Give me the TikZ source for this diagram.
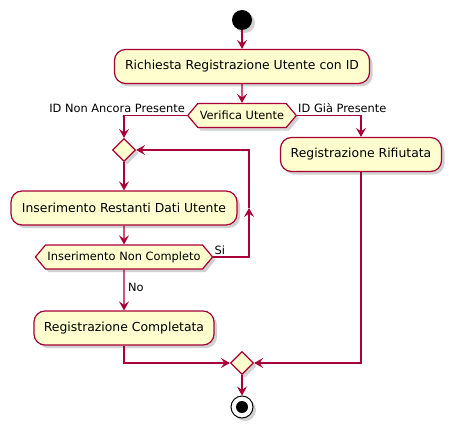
\documentclass[tikz,border=0pt]{standalone}
\usepackage{fontspec}
\setmainfont{DejaVu Sans}
\usetikzlibrary{arrows.meta,shapes.geometric,shapes.symbols,shadows,calc}
\definecolor{actfill}{HTML}{FEFECE}
\definecolor{actline}{HTML}{A80036}
\tikzset{
		umlshadow/.style={drop shadow={shadow xshift=3pt,shadow yshift=-3pt,opacity=0.3,fill=black!60}},
		action/.style={draw=actline,fill=actfill,line width=1.2pt,rounded corners=11pt,
			minimum height=34pt,inner xsep=6pt,font=\fontsize{12.4}{14}\selectfont,umlshadow},
		choice/.style={shape=signal,signal to=east and west,signal pointer angle=100,
			draw=actline,fill=actfill,line width=1.2pt,minimum height=24pt,inner xsep=2pt,inner ysep=0pt,
			font=\fontsize{11.4}{13}\selectfont,umlshadow},
		merge/.style={diamond,draw=actline,fill=actfill,line width=1.2pt,inner sep=0pt,
			minimum width=23pt,minimum height=23pt,umlshadow},
		flow/.style={draw=actline,line width=1.1pt,-{Stealth[length=9pt,width=10pt,inset=3.5pt]}},
		guard/.style={font=\fontsize{11.4}{13}\selectfont,inner sep=0pt},
		}

\begin{document}
\begin{tikzpicture}[x=1pt,y=-1pt]
					\useasboundingbox (0,0) rectangle (457,433);
					%START AND END
					\node[circle,fill=black,minimum size=20pt,inner sep=0pt,umlshadow](start) at (242,20){};
					\node[circle,draw=black,fill=white,line width=1pt,minimum size=22pt,inner sep=0pt,umlshadow](stop) at (242,407){};
					\node[circle,fill=black,minimum size=12pt,inner sep=0pt](stopdot) at (stop){};
					%ACTIONS
					\node[action,minimum width=255pt](richiesta) at (242,66.5){Richiesta Registrazione Utente con ID};
					\node[action,minimum width=161pt](rifiutata) at (361,154.5){Registrazione Rifiutata};
					\node[action,minimum width=226pt](restanti) at (124,208){Inserimento Restanti Dati Utente};
					\node[action,minimum width=180pt](completata) at (124,328){Registrazione Completata};
					%DECISIONS
					\node[choice,minimum width=106pt](verifica) at (242,115.5){Verifica Utente};
					\node[choice,minimum width=176pt](controllo) at (124,257){Inserimento Non Completo};
					\node[merge](ciclo) at (124,150){};
					\node[merge](unione) at (242,363){};
					%LOOP CORNERS
					\coordinate (loopR) at (249,257);
					\coordinate (loopM) at (249,208);
					%PATHS
					\path[flow] (start) -- (richiesta);
					\path[flow] (richiesta) -- (verifica);
					\path[flow] (verifica.west) -| (ciclo.north);
					\path[flow] (verifica.east) -| (rifiutata.north);
					\path[flow] (ciclo) -- (restanti);
					\path[flow] (restanti) -- (controllo);
					\path[flow] (controllo.east) -- (loopR) -- (loopM);
					\path[flow] (loopM) |- (ciclo.east);
					\path[flow] (controllo) -- (completata);
					\path[flow] (completata.south) |- (unione.west);
					\path[flow] (rifiutata.south) |- (unione.east);
					\path[flow] (unione) -- (stop);
					%LABELS
					\node[guard,anchor=base east] at ($(verifica.west)+(-2,-3)$){ID Non Ancora Presente};
					\node[guard,anchor=base west] at ($(verifica.east)+(1,-3)$){ID Già Presente};
					\node[guard,anchor=base west] at ($(controllo.east)+(1,-3)$){Si};
					\node[guard,anchor=base west] at ($(controllo.south)+(4,22)$){No};
				\end{tikzpicture}
\end{document}
